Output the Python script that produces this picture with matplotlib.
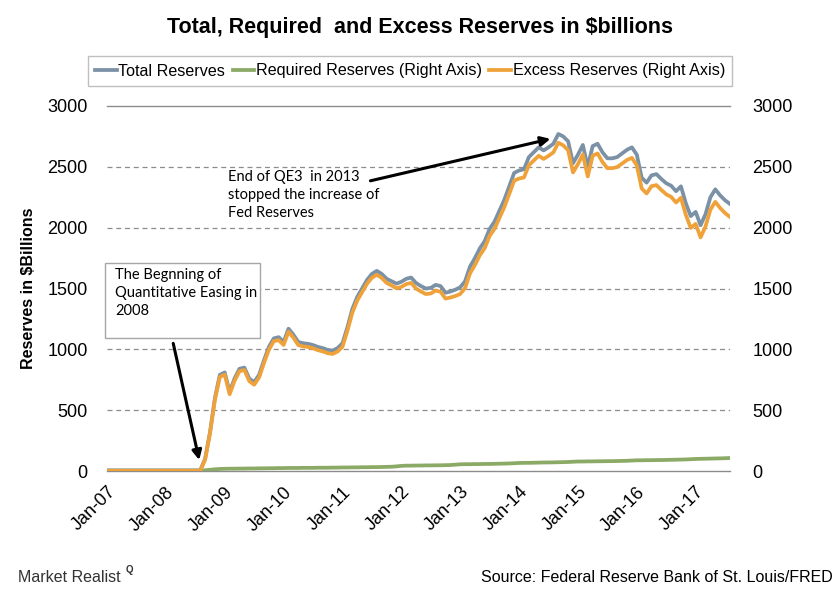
import matplotlib
matplotlib.use("Agg")
import matplotlib.pyplot as plt
from matplotlib.patches import Rectangle

# ---------------- data (monthly, Jan-2007 .. Aug-2017) ----------------
tick_labels = ["Jan-07", "Jan-08", "Jan-09", "Jan-10", "Jan-11", "Jan-12",
               "Jan-13", "Jan-14", "Jan-15", "Jan-16", "Jan-17"]

total_reserves = [
    5, 5, 5, 5, 5, 5, 5, 5, 5, 5, 5, 5,
    5, 5, 5, 5, 5, 5, 5, 5, 100, 320, 600, 790,
    810, 650, 760, 840, 850, 760, 730, 790, 910, 1020, 1090, 1100,
    1060, 1170, 1120, 1060, 1050, 1045, 1035, 1020, 1010, 995, 990, 1010,
    1050, 1180, 1330, 1430, 1500, 1570, 1620, 1645, 1620, 1580, 1560, 1540,
    1555, 1580, 1590, 1545, 1520, 1500, 1505, 1530, 1520, 1465, 1475, 1490,
    1510, 1560, 1680, 1750, 1830, 1890, 1990, 2050, 2140, 2230, 2340, 2450,
    2470, 2480, 2580, 2620, 2660, 2635, 2660, 2690, 2770, 2750, 2710, 2530,
    2600, 2680, 2500, 2670, 2690, 2620, 2570, 2570, 2580, 2610, 2640, 2660,
    2600, 2410, 2370, 2430, 2440, 2400, 2365, 2345, 2300, 2340, 2200, 2095,
    2130, 2020, 2110, 2250, 2315, 2265, 2225, 2195,
]

required_reserves = [
    3, 3, 3, 3, 3, 3, 3, 3, 3, 3, 3, 3,
    3, 3, 3, 3, 3, 3, 3, 3, 6, 10, 14, 17,
    18, 19, 19, 20, 20, 21, 21, 22, 22, 23, 23, 24,
    24, 25, 25, 25, 26, 26, 26, 27, 27, 27, 28, 28,
    29, 29, 30, 30, 31, 31, 32, 32, 33, 34, 35, 38,
    42, 44, 44, 45, 45, 46, 46, 47, 47, 48, 49, 52,
    55, 56, 56, 57, 57, 58, 58, 59, 60, 61, 62, 64,
    66, 67, 67, 68, 69, 70, 70, 71, 72, 73, 74, 76,
    78, 78, 79, 79, 80, 80, 81, 81, 82, 83, 84, 86,
    88, 88, 89, 89, 90, 90, 91, 92, 93, 94, 95, 97,
    99, 100, 101, 102, 103, 104, 105, 107,
]

excess_reserves = [
    2, 2, 2, 2, 2, 2, 2, 2, 2, 2, 2, 2,
    2, 2, 2, 2, 2, 2, 2, 2, 94, 310, 586, 773,
    792, 631, 741, 820, 830, 739, 709, 768, 888, 997, 1067, 1076,
    1036, 1145, 1095, 1035, 1024, 1019, 1009, 993, 983, 968, 962, 982,
    1021, 1151, 1300, 1400, 1469, 1539, 1588, 1613, 1587, 1546, 1525, 1502,
    1513, 1536, 1546, 1500, 1475, 1454, 1459, 1483, 1473, 1417, 1426, 1438,
    1455, 1504, 1624, 1693, 1773, 1832, 1932, 1991, 2080, 2169, 2278, 2386,
    2404, 2413, 2513, 2552, 2591, 2565, 2590, 2619, 2698, 2677, 2636, 2454,
    2522, 2602, 2421, 2591, 2610, 2540, 2489, 2489, 2498, 2527, 2556, 2574,
    2512, 2322, 2281, 2341, 2350, 2310, 2274, 2253, 2207, 2246, 2105, 1998,
    2031, 1920, 2009, 2148, 2212, 2161, 2120, 2088,
]

y_ticks = [0, 500, 1000, 1500, 2000, 2500, 3000]

# ---------------- styling ----------------
ARIAL = ["Liberation Sans", "DejaVu Sans"]
CALIBRI = ["Lato", "DejaVu Sans"]
c_total = "#7b91a6"
c_req = "#8aaa66"
c_exc = "#f0a23a"
grid_c = "#8c8c8c"

fig = plt.figure(figsize=(8.4, 6.0), dpi=100)
ax = fig.add_axes([107 / 840, 1 - 471 / 600, 623 / 840, 365 / 600])
ax2 = ax.twinx()

x = list(range(len(total_reserves)))

l1, = ax.plot(x, total_reserves, color=c_total, lw=2.7, solid_joinstyle="round")
l2, = ax2.plot(x, required_reserves, color=c_req, lw=2.7, solid_joinstyle="round")
l3, = ax2.plot(x, excess_reserves, color=c_exc, lw=2.7, solid_joinstyle="round")

for a in (ax, ax2):
    a.set_ylim(0, 3000)
    a.set_xlim(0, len(total_reserves) - 1)
    a.set_yticks(y_ticks)
    for s in a.spines.values():
        s.set_visible(False)
    a.tick_params(axis="y", length=0, labelsize=13, pad=14)
    for lab in a.get_yticklabels():
        lab.set_fontfamily(ARIAL)

ax.spines["bottom"].set_visible(True)
ax.spines["bottom"].set_color(grid_c)
ax.spines["bottom"].set_linewidth(1.0)

# gridlines
for v in y_ticks[1:-1]:
    ax.axhline(v, color=grid_c, lw=0.9, ls=(0, (4, 3)), zorder=0)
ax.axhline(3000, color=grid_c, lw=1.0, zorder=0, clip_on=False)

ax.set_xticks(list(range(0, len(total_reserves), 12)))
ax.set_xticklabels(tick_labels, rotation=45, ha="right", rotation_mode="anchor",
                   fontsize=13, family=ARIAL)
ax.tick_params(axis="x", length=0, pad=9)
ax2.tick_params(axis="y", pad=16)

ax.set_ylabel("Reserves in $Billions", fontsize=11.5, family=ARIAL, labelpad=8,
              fontweight="semibold")

# title
fig.text(0.5, 1 - 28 / 600, "Total, Required  and Excess Reserves in $billions",
         ha="center", va="center", fontsize=15.5, fontweight="bold", family=ARIAL)

# legend
leg = fig.legend([l1, l2, l3],
                 ["Total Reserves", "Required Reserves (Right Axis)",
                  "Excess Reserves (Right Axis)"],
                 loc="center", bbox_to_anchor=(410 / 840, 1 - 71 / 600), ncol=3,
                 frameon=True, fancybox=False, handlelength=1.35, handletextpad=0.1,
                 columnspacing=0.45, borderpad=0.45,
                 prop={"family": ARIAL, "size": 11.6})
leg.get_frame().set_edgecolor("#b0b0b0")
leg.get_frame().set_linewidth(1.0)

# annotation: end of QE3
ax2.annotate("", xy=(90.4, 2730), xytext=(53.7, 2385),
             arrowprops=dict(arrowstyle="-|>", color="black", lw=2.2,
                             mutation_scale=14, shrinkA=0, shrinkB=0))
ax2.text(24.7, 2470, "End of QE3  in 2013\nstopped the increase of\nFed Reserves",
         ha="left", va="top", fontsize=10.5, family=CALIBRI, linespacing=1.35)

# annotation: beginning of QE
fig.patches.append(Rectangle((105 / 840, 1 - 338 / 600), 155 / 840, 75 / 600,
                             transform=fig.transFigure, facecolor="white",
                             edgecolor="#a6a6a6", lw=1.0, zorder=5))
fig.text(115 / 840, 1 - 268 / 600,
         "The Begnning of\nQuantitative Easing in\n2008",
         ha="left", va="top", fontsize=10.5, family=CALIBRI, linespacing=1.35,
         zorder=6)
ax2.annotate("", xy=(18.8, 90), xytext=(13.5, 1049),
             arrowprops=dict(arrowstyle="-|>", color="black", lw=2.2,
                             mutation_scale=14, shrinkA=0, shrinkB=0))

# footer
fig.text(18 / 840, 1 - 578 / 600, "Market Realist", ha="left", va="center",
         fontsize=11.5, family=ARIAL, color="#333333")
fig.text(126 / 840, 1 - 570 / 600, "Q", ha="left", va="center",
         fontsize=7, family=ARIAL, color="#333333", fontweight="bold")
fig.text(833 / 840, 1 - 578 / 600, "Source: Federal Reserve Bank of St. Louis/FRED",
         ha="right", va="center", fontsize=11.5, family=ARIAL, color="black")

fig.savefig("out.png", dpi=100)
